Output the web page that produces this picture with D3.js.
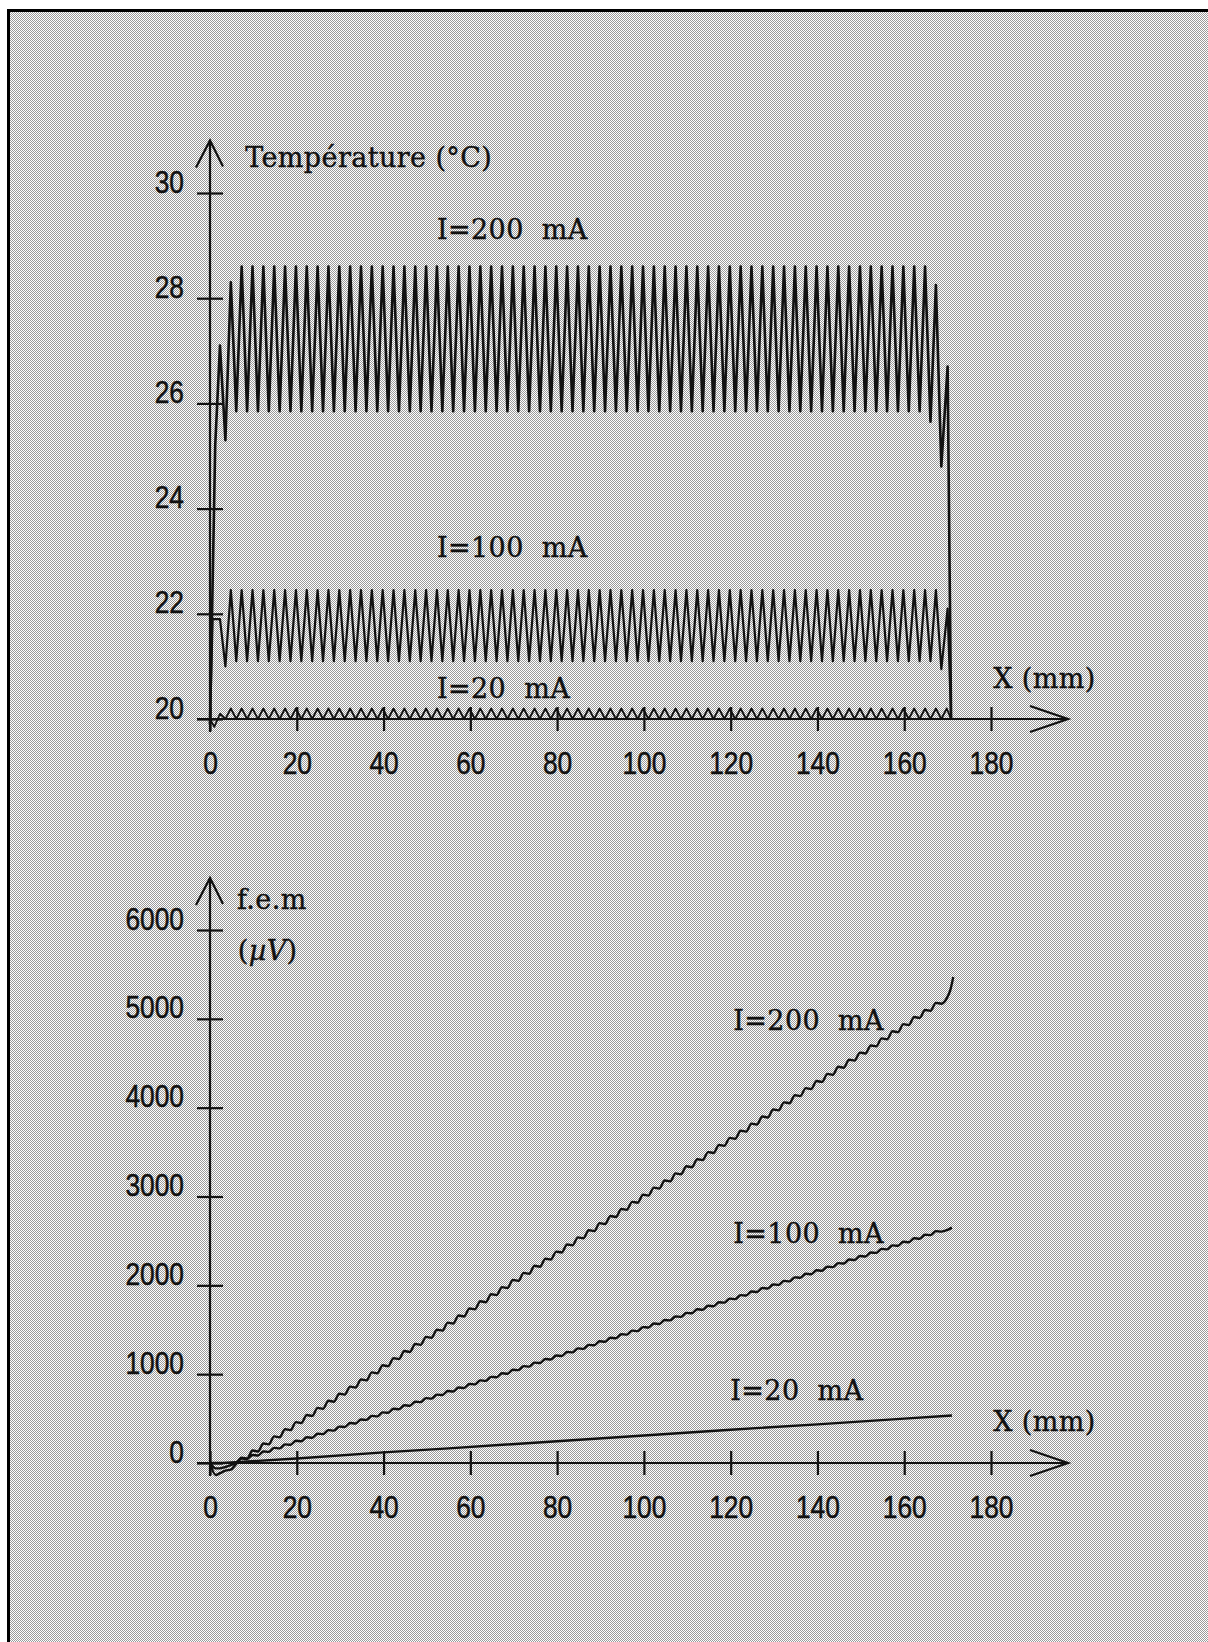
<!DOCTYPE html>
<html>
<head>
<meta charset="utf-8">
<script src="https://cdn.jsdelivr.net/npm/d3@7"></script>
<style>
body { margin: 0; background: #fff; }
svg { display: block; }
</style>
</head>
<body>
<script>
var width = 1208,
    height = 1642;

var xTicks = [0, 20, 40, 60, 80, 100, 120, 140, 160, 180],
    tempTicks = [20, 22, 24, 26, 28, 30],
    femTicks = [0, 1000, 2000, 3000, 4000, 5000, 6000];

// sample points along X (mm): two per heating period
var xs = [
  2.3, 3.55, 4.8, 6.05, 7.3, 8.55, 9.8, 11.05, 12.3, 13.55,
  14.8, 16.05, 17.3, 18.55, 19.8, 21.05, 22.3, 23.55, 24.8, 26.05,
  27.3, 28.55, 29.8, 31.05, 32.3, 33.55, 34.8, 36.05, 37.3, 38.55,
  39.8, 41.05, 42.3, 43.55, 44.8, 46.05, 47.3, 48.55, 49.8, 51.05,
  52.3, 53.55, 54.8, 56.05, 57.3, 58.55, 59.8, 61.05, 62.3, 63.55,
  64.8, 66.05, 67.3, 68.55, 69.8, 71.05, 72.3, 73.55, 74.8, 76.05,
  77.3, 78.55, 79.8, 81.05, 82.3, 83.55, 84.8, 86.05, 87.3, 88.55,
  89.8, 91.05, 92.3, 93.55, 94.8, 96.05, 97.3, 98.55, 99.8, 101.05,
  102.3, 103.55, 104.8, 106.05, 107.3, 108.55, 109.8, 111.05, 112.3, 113.55,
  114.8, 116.05, 117.3, 118.55, 119.8, 121.05, 122.3, 123.55, 124.8, 126.05,
  127.3, 128.55, 129.8, 131.05, 132.3, 133.55, 134.8, 136.05, 137.3, 138.55,
  139.8, 141.05, 142.3, 143.55, 144.8, 146.05, 147.3, 148.55, 149.8, 151.05,
  152.3, 153.55, 154.8, 156.05, 157.3, 158.55, 159.8, 161.05, 162.3, 163.55,
  164.8, 166.05, 167.3, 168.55
];

// température (°C)
var temp200 = [
  27.1, 25.3, 28.3, 25.85, 28.6, 25.85, 28.6, 25.85, 28.6, 25.85,
  28.6, 25.85, 28.6, 25.85, 28.6, 25.85, 28.6, 25.85, 28.6, 25.85,
  28.6, 25.85, 28.6, 25.85, 28.6, 25.85, 28.6, 25.85, 28.6, 25.85,
  28.6, 25.85, 28.6, 25.85, 28.6, 25.85, 28.6, 25.85, 28.6, 25.85,
  28.6, 25.85, 28.6, 25.85, 28.6, 25.85, 28.6, 25.85, 28.6, 25.85,
  28.6, 25.85, 28.6, 25.85, 28.6, 25.85, 28.6, 25.85, 28.6, 25.85,
  28.6, 25.85, 28.6, 25.85, 28.6, 25.85, 28.6, 25.85, 28.6, 25.85,
  28.6, 25.85, 28.6, 25.85, 28.6, 25.85, 28.6, 25.85, 28.6, 25.85,
  28.6, 25.85, 28.6, 25.85, 28.6, 25.85, 28.6, 25.85, 28.6, 25.85,
  28.6, 25.85, 28.6, 25.85, 28.6, 25.85, 28.6, 25.85, 28.6, 25.85,
  28.6, 25.85, 28.6, 25.85, 28.6, 25.85, 28.6, 25.85, 28.6, 25.85,
  28.6, 25.85, 28.6, 25.85, 28.6, 25.85, 28.6, 25.85, 28.6, 25.85,
  28.6, 25.85, 28.6, 25.85, 28.6, 25.85, 28.6, 25.85, 28.6, 25.85,
  28.6, 25.65, 28.25, 24.8
];
var temp200Head = [[0, 19.9], [1.2, 25.2]],
    temp200Tail = [[170.0, 26.7], [170.8, 20.0]];

var temp100 = [
  21.9, 21.0, 22.45, 21.1, 22.45, 21.1, 22.45, 21.1, 22.45, 21.1,
  22.45, 21.1, 22.45, 21.1, 22.45, 21.1, 22.45, 21.1, 22.45, 21.1,
  22.45, 21.1, 22.45, 21.1, 22.45, 21.1, 22.45, 21.1, 22.45, 21.1,
  22.45, 21.1, 22.45, 21.1, 22.45, 21.1, 22.45, 21.1, 22.45, 21.1,
  22.45, 21.1, 22.45, 21.1, 22.45, 21.1, 22.45, 21.1, 22.45, 21.1,
  22.45, 21.1, 22.45, 21.1, 22.45, 21.1, 22.45, 21.1, 22.45, 21.1,
  22.45, 21.1, 22.45, 21.1, 22.45, 21.1, 22.45, 21.1, 22.45, 21.1,
  22.45, 21.1, 22.45, 21.1, 22.45, 21.1, 22.45, 21.1, 22.45, 21.1,
  22.45, 21.1, 22.45, 21.1, 22.45, 21.1, 22.45, 21.1, 22.45, 21.1,
  22.45, 21.1, 22.45, 21.1, 22.45, 21.1, 22.45, 21.1, 22.45, 21.1,
  22.45, 21.1, 22.45, 21.1, 22.45, 21.1, 22.45, 21.1, 22.45, 21.1,
  22.45, 21.1, 22.45, 21.1, 22.45, 21.1, 22.45, 21.1, 22.45, 21.1,
  22.45, 21.1, 22.45, 21.1, 22.45, 21.1, 22.45, 21.1, 22.45, 21.1,
  22.45, 21.1, 22.45, 20.95
];
var temp100Head = [[0, 19.9], [0.6, 21.9]],
    temp100Tail = [[170.0, 22.1], [170.8, 20.0]];

var temp20 = [
  20.1, 20.0, 20.2, 20.0, 20.2, 20.0, 20.2, 20.0, 20.2, 20.0,
  20.2, 20.0, 20.2, 20.0, 20.2, 20.0, 20.2, 20.0, 20.2, 20.0,
  20.2, 20.0, 20.2, 20.0, 20.2, 20.0, 20.2, 20.0, 20.2, 20.0,
  20.2, 20.0, 20.2, 20.0, 20.2, 20.0, 20.2, 20.0, 20.2, 20.0,
  20.2, 20.0, 20.2, 20.0, 20.2, 20.0, 20.2, 20.0, 20.2, 20.0,
  20.2, 20.0, 20.2, 20.0, 20.2, 20.0, 20.2, 20.0, 20.2, 20.0,
  20.2, 20.0, 20.2, 20.0, 20.2, 20.0, 20.2, 20.0, 20.2, 20.0,
  20.2, 20.0, 20.2, 20.0, 20.2, 20.0, 20.2, 20.0, 20.2, 20.0,
  20.2, 20.0, 20.2, 20.0, 20.2, 20.0, 20.2, 20.0, 20.2, 20.0,
  20.2, 20.0, 20.2, 20.0, 20.2, 20.0, 20.2, 20.0, 20.2, 20.0,
  20.2, 20.0, 20.2, 20.0, 20.2, 20.0, 20.2, 20.0, 20.2, 20.0,
  20.2, 20.0, 20.2, 20.0, 20.2, 20.0, 20.2, 20.0, 20.2, 20.0,
  20.2, 20.0, 20.2, 20.0, 20.2, 20.0, 20.2, 20.0, 20.2, 20.0,
  20.2, 20.0, 20.2, 20.0
];
var temp20Head = [[0, 20.0], [1.0, 19.85]],
    temp20Tail = [[169.8, 20.2], [170.8, 20.0]];

// f.e.m (µV)
var fem200 = [
  -115, -85, -75, -10, 60, 50, 140, 130, 220, 210,
  300, 290, 380, 370, 460, 450, 540, 530, 620, 610,
  700, 690, 780, 770, 860, 850, 940, 930, 1020, 1010,
  1100, 1090, 1180, 1170, 1260, 1250, 1340, 1330, 1420, 1410,
  1500, 1490, 1580, 1570, 1660, 1650, 1740, 1730, 1820, 1810,
  1900, 1890, 1980, 1970, 2060, 2050, 2140, 2130, 2220, 2210,
  2300, 2290, 2380, 2370, 2460, 2450, 2540, 2530, 2620, 2610,
  2700, 2690, 2780, 2770, 2860, 2850, 2940, 2930, 3020, 3010,
  3100, 3090, 3180, 3170, 3260, 3250, 3340, 3330, 3420, 3410,
  3500, 3490, 3580, 3570, 3660, 3650, 3740, 3730, 3820, 3810,
  3900, 3890, 3980, 3970, 4060, 4050, 4140, 4130, 4220, 4210,
  4300, 4290, 4380, 4370, 4460, 4450, 4540, 4530, 4620, 4610,
  4700, 4690, 4780, 4770, 4860, 4850, 4940, 4930, 5020, 5010,
  5100, 5090, 5180, 5170
];
var fem200Head = [[0, 0], [1.3, -135]],
    fem200Tail = [[170.0, 5250], [170.6, 5320], [171.3, 5470]];

var fem100 = [
  -60, -45, -25, 5, 50, 45, 90, 85, 130, 125,
  170, 165, 210, 205, 250, 245, 290, 285, 330, 325,
  370, 365, 410, 405, 450, 445, 490, 485, 530, 525,
  570, 565, 610, 605, 650, 645, 690, 685, 730, 725,
  770, 765, 810, 805, 850, 845, 890, 885, 930, 925,
  970, 965, 1010, 1005, 1050, 1045, 1090, 1085, 1130, 1125,
  1170, 1165, 1210, 1205, 1250, 1245, 1290, 1285, 1330, 1325,
  1370, 1365, 1410, 1405, 1450, 1445, 1490, 1485, 1530, 1525,
  1570, 1565, 1610, 1605, 1650, 1645, 1690, 1685, 1730, 1725,
  1770, 1765, 1810, 1805, 1850, 1845, 1890, 1885, 1930, 1925,
  1970, 1965, 2010, 2005, 2050, 2045, 2090, 2085, 2130, 2125,
  2170, 2165, 2210, 2205, 2250, 2245, 2290, 2285, 2330, 2325,
  2370, 2365, 2410, 2405, 2450, 2445, 2490, 2485, 2530, 2525,
  2570, 2565, 2610, 2605
];
var fem100Head = [[0, 0], [1.3, -60]],
    fem100Tail = [[170.0, 2625], [171.0, 2650]];

var fem20X = [0, 3, 20, 40, 55, 80, 100, 120, 140, 160, 171],
    fem20 = [0, 0, 50, 120, 165, 245, 310, 375, 435, 500, 535];

var numFont = "'Liberation Sans', Arial, sans-serif",
    serifFont = "'DejaVu Serif', 'Liberation Serif', serif",
    ink = "#111";

function series(head, vals, tail) {
    return head.concat(xs.map(function(x, i) { return [x, vals[i]]; }), tail);
}

var svg = d3.select("body").append("svg")
    .attr("width", width)
    .attr("height", height);

// halftone paper
var pat = svg.append("defs").append("pattern")
    .attr("id", "screen")
    .attr("patternUnits", "userSpaceOnUse")
    .attr("width", 2)
    .attr("height", 2);
pat.append("rect").attr("width", 2).attr("height", 2).attr("fill", "#fff");
pat.append("rect").attr("width", 1).attr("height", 1).attr("fill", "#9a9a9a");
pat.append("rect").attr("x", 1).attr("y", 1).attr("width", 1).attr("height", 1).attr("fill", "#9a9a9a");

svg.append("rect")
    .attr("x", 8)
    .attr("y", 10)
    .attr("width", width - 8)
    .attr("height", height - 10)
    .attr("fill", "url(#screen)");

svg.append("path")
    .attr("d", "M8.5," + height + "V10.5H" + width)
    .attr("fill", "none")
    .attr("stroke", "#000")
    .attr("stroke-width", 3);

var x = d3.scaleLinear().domain([0, 180]).range([210, 991]);

function numText(sel, shift) {
    sel.attr("dy", 0)
        .attr("transform", shift + " scale(0.85,1)")
        .attr("font-family", numFont)
        .attr("font-size", 31)
        .attr("fill", ink)
        .attr("stroke", ink)
        .attr("stroke-width", 0.5);
}

function panel(y, yTicks, yMax, lines) {
    var g = svg.append("g");
    var x0 = x(0), y0 = y(y.domain()[0]);

    // y ticks crossing the axis
    var left = g.append("g").attr("transform", "translate(" + x0 + ",0)")
        .call(d3.axisLeft(y).tickValues(yTicks).tickSize(13).tickFormat(d3.format("d")));
    g.append("g").attr("transform", "translate(" + x0 + ",0)")
        .call(d3.axisRight(y).tickValues(yTicks).tickSize(13).tickFormat(""));
    numText(left.selectAll(".tick text").attr("x", null), "translate(-26,-1)");

    // x ticks crossing the axis
    var bottom = g.append("g").attr("transform", "translate(0," + y0 + ")")
        .call(d3.axisBottom(x).tickValues(xTicks).tickSize(12).tickFormat(d3.format("d")));
    g.append("g").attr("transform", "translate(0," + y0 + ")")
        .call(d3.axisTop(x).tickValues(xTicks).tickSize(12).tickFormat(""));
    numText(bottom.selectAll(".tick text").attr("y", null), "translate(0,55)");

    g.selectAll(".domain").remove();
    g.selectAll(".tick line").attr("stroke", ink).attr("stroke-width", 2.2);

    // axes with open arrow heads
    var yTip = y(yMax), xTip = x(180) + 77;
    g.append("path")
        .attr("d", "M" + x0 + "," + (y0 + 13) + "V" + yTip +
                   "M" + (x0 - 14) + "," + (yTip + 27) + "L" + x0 + "," + yTip + "L" + (x0 + 13) + "," + (yTip + 26) +
                   "M" + (x0 - 13) + "," + y0 + "H" + xTip +
                   "M" + (xTip - 38) + "," + (y0 - 13) + "L" + xTip + "," + y0 + "L" + (xTip - 38) + "," + (y0 + 13))
        .attr("fill", "none")
        .attr("stroke", ink)
        .attr("stroke-width", 2.2);

    lines.forEach(function(s) {
        g.append("path")
            .datum(s.data)
            .attr("fill", "none")
            .attr("stroke", ink)
            .attr("stroke-width", s.w)
            .attr("stroke-linejoin", "round")
            .attr("d", d3.line()
                .curve(s.curve || d3.curveLinear)
                .x(function(d) { return x(d[0]); })
                .y(function(d) { return y(d[1]); }));
    });
    return g;
}

function label(g, px, py, text) {
    return g.append("text")
        .attr("x", px)
        .attr("y", py)
        .attr("font-family", serifFont)
        .attr("font-size", 27)
        .attr("letter-spacing", 0.4)
        .attr("fill", ink)
        .attr("stroke", ink)
        .attr("stroke-width", 0.4)
        .style("white-space", "pre")
        .text(text);
}

// ---- upper panel: température ----
var yT = d3.scaleLinear().domain([20, 30]).range([719, 193]);
var tempG = panel(yT, tempTicks, 31.0, [
    { data: series(temp20Head, temp20, temp20Tail), w: 1.8 },
    { data: series(temp100Head, temp100, temp100Tail), w: 2.2 },
    { data: series(temp200Head, temp200, temp200Tail), w: 2.6 }
]);
label(tempG, x(8.1), yT(30.49), "Température (°C)");
label(tempG, x(52.3), yT(29.13), "I=200  mA");
label(tempG, x(52.3), yT(23.08), "I=100  mA");
label(tempG, x(52.3), yT(20.4), "I=20  mA");
label(tempG, x(180.5), yT(20.59), "X (mm)");

// ---- lower panel: f.e.m ----
var yE = d3.scaleLinear().domain([0, 6000]).range([1463, 930]);
var femG = panel(yE, femTicks, 6585, [
    { data: fem20X.map(function(v, i) { return [v, fem20[i]]; }), w: 2.4 },
    { data: series(fem100Head, fem100, fem100Tail), w: 2.4, curve: d3.curveMonotoneX },
    { data: series(fem200Head, fem200, fem200Tail), w: 2.4, curve: d3.curveMonotoneX }
]);
label(femG, x(6.2), yE(6239), "f.e.m");
var mu = label(femG, x(6.4), yE(5664), "(");
mu.append("tspan").attr("font-style", "italic").text("µV");
mu.append("tspan").text(")");
label(femG, x(120.6), yE(4876), "I=200  mA");
label(femG, x(120.6), yE(2477), "I=100  mA");
label(femG, x(119.9), yE(709), "I=20  mA");
label(femG, x(180.5), yE(360), "X (mm)");
</script>
</body>
</html>
